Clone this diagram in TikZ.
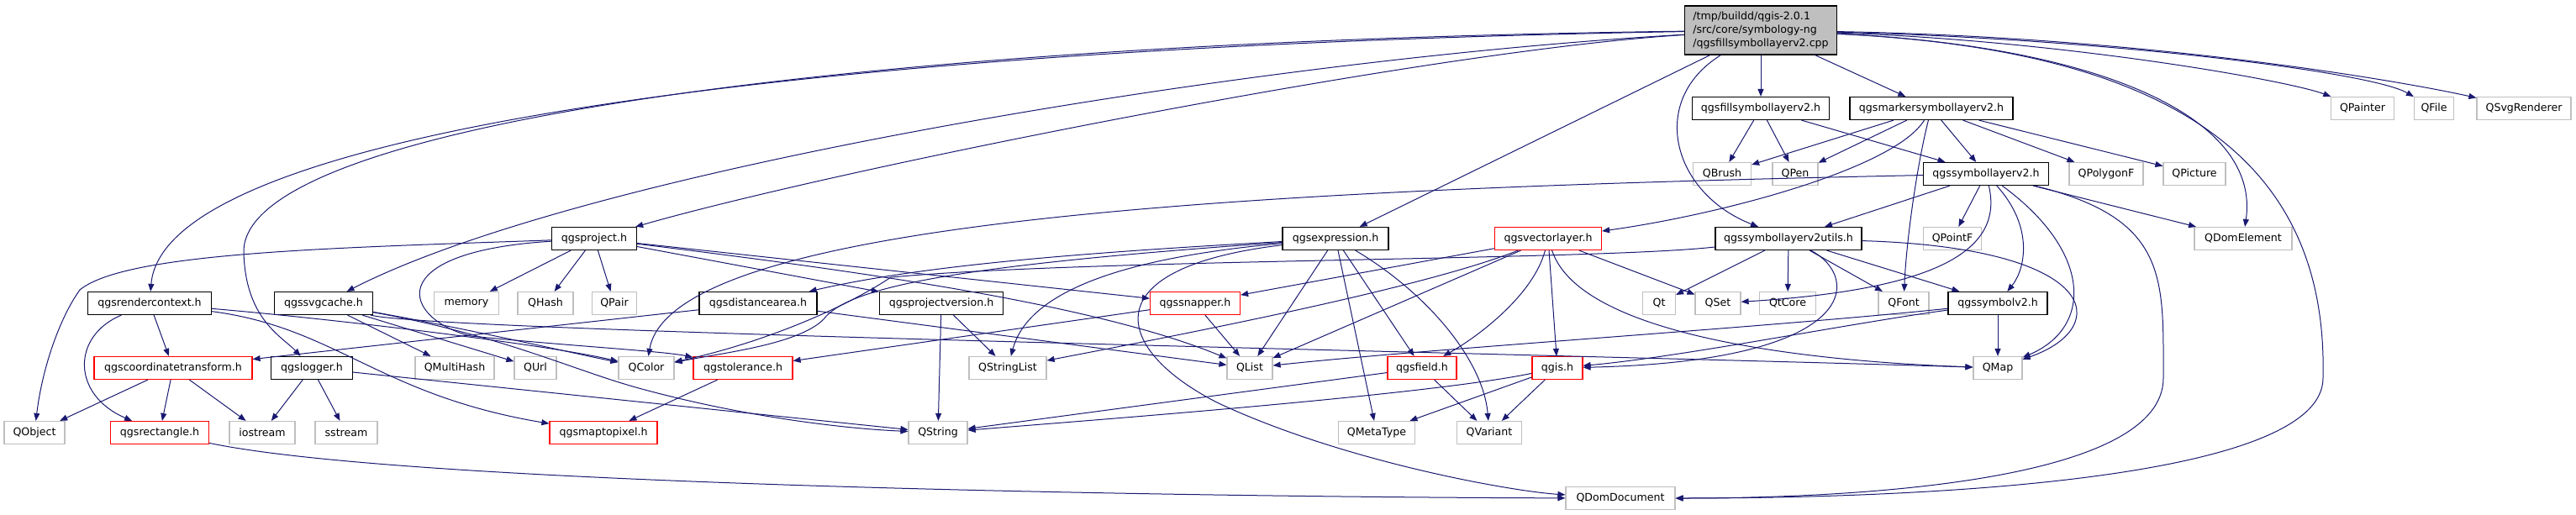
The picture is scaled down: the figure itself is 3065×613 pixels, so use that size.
\documentclass[tikz,border=0pt]{standalone}
\usepackage{fontspec}
\setmainfont{DejaVu Sans}
\usetikzlibrary{arrows.meta}
\definecolor{edgeblue}{HTML}{191970}
\definecolor{boxgray}{HTML}{BFBFBF}

\begin{document}
\begin{tikzpicture}[x=1pt, y=-1pt, >={Triangle[length=9pt,width=7pt]},
  every node/.style={font=\fontsize{12.6}{16}\selectfont, inner sep=0pt, minimum height=27pt},
  srcbox/.style={draw=black, fill=boxgray, line width=1.2pt},
  hdr/.style={draw=black, line width=1.2pt},
  qtcls/.style={draw=boxgray, line width=1.2pt},
  trunc/.style={draw=red, line width=1.2pt},
  dep/.style={draw=edgeblue, line width=1pt, ->}]

\useasboundingbox (0,0) rectangle (3065,613);

\node[srcbox, minimum width=181pt, minimum height=58pt, align=left] (src) at (2095,36)
  {/tmp/buildd/qgis-2.0.1\\/src/core/symbology-ng\\/qgsfillsymbollayerv2.cpp};

\node[hdr, minimum width=163pt] (fillsym) at (2095,129) {qgsfillsymbollayerv2.h};
\node[hdr, minimum width=194pt] (markersym) at (2298,129) {qgsmarkersymbollayerv2.h};
\node[qtcls, minimum width=75pt] (painter) at (2811,129) {QPainter};
\node[qtcls, minimum width=47pt] (file) at (2896,129) {QFile};
\node[qtcls, minimum width=112pt] (svgrend) at (3003,129) {QSvgRenderer};

\node[qtcls, minimum width=69pt] (brush) at (2049,207) {QBrush};
\node[qtcls, minimum width=54pt] (pen) at (2136,207) {QPen};
\node[hdr, minimum width=149pt] (symlayer) at (2363,207) {qgssymbollayerv2.h};
\node[qtcls, minimum width=88pt] (polygonf) at (2506,207) {QPolygonF};
\node[qtcls, minimum width=74pt] (picture) at (2611,207) {QPicture};

\node[hdr, minimum width=101pt] (project) at (707,284) {qgsproject.h};
\node[hdr, minimum width=126pt] (expression) at (1589,284) {qgsexpression.h};
\node[trunc, minimum width=127pt] (vlayer) at (1842,284) {qgsvectorlayer.h};
\node[hdr, minimum width=174pt] (symutils) at (2128,284) {qgssymbollayerv2utils.h};
\node[qtcls, minimum width=69pt] (pointf) at (2323,284) {QPointF};
\node[qtcls, minimum width=116pt] (domelem) at (2669,284) {QDomElement};

\node[hdr, minimum width=147pt] (rendctx) at (178,361) {qgsrendercontext.h};
\node[hdr, minimum width=117pt] (svgcache) at (385,361) {qgssvgcache.h};
\node[qtcls, minimum width=77pt] (memory) at (555,361) {memory};
\node[qtcls, minimum width=66pt] (hash) at (649,361) {QHash};
\node[qtcls, minimum width=53pt] (pair) at (731,361) {QPair};
\node[hdr, minimum width=140pt] (distarea) at (902,361) {qgsdistancearea.h};
\node[hdr, minimum width=147pt] (projver) at (1120,361) {qgsprojectversion.h};
\node[trunc, minimum width=107pt] (snapper) at (1422,361) {qgssnapper.h};
\node[qtcls, minimum width=39pt] (qt) at (1974,361) {Qt};
\node[qtcls, minimum width=54pt] (set) at (2044,361) {QSet};
\node[qtcls, minimum width=67pt] (qtcore) at (2127,361) {QtCore};
\node[qtcls, minimum width=60pt] (font) at (2265,361) {QFont};
\node[hdr, minimum width=118pt] (symbol) at (2377,361) {qgssymbolv2.h};

\node[trunc, minimum width=188pt] (coordtr) at (206,438) {qgscoordinatetransform.h};
\node[hdr, minimum width=97pt] (logger) at (371,438) {qgslogger.h};
\node[qtcls, minimum width=94pt] (multihash) at (541,438) {QMultiHash};
\node[qtcls, minimum width=50pt] (url) at (637,438) {QUrl};
\node[qtcls, minimum width=66pt] (color) at (769,438) {QColor};
\node[trunc, minimum width=118pt] (tolerance) at (884,438) {qgstolerance.h};
\node[qtcls, minimum width=92pt] (strlist) at (1199,438) {QStringList};
\node[qtcls, minimum width=54pt] (list) at (1487,438) {QList};
\node[trunc, minimum width=82pt] (field) at (1692,438) {qgsfield.h};
\node[trunc, minimum width=60pt] (qgis) at (1853,438) {qgis.h};
\node[qtcls, minimum width=58pt] (map) at (2377,438) {QMap};

\node[qtcls, minimum width=72pt] (object) at (41,515) {QObject};
\node[trunc, minimum width=117pt] (rect) at (190,515) {qgsrectangle.h};
\node[qtcls, minimum width=78pt] (iostream) at (312,515) {iostream};
\node[qtcls, minimum width=74pt] (sstream) at (412,515) {sstream};
\node[trunc, minimum width=128pt] (maptopix) at (718,515) {qgsmaptopixel.h};
\node[qtcls, minimum width=70pt] (string) at (1116,515) {QString};
\node[qtcls, minimum width=91pt] (metatype) at (1638,515) {QMetaType};
\node[qtcls, minimum width=77pt] (variant) at (1772,515) {QVariant};

\node[qtcls, minimum width=130pt] (domdoc) at (1928,593) {QDomDocument};

% the .cpp file
\draw[dep] (src) -- (fillsym);
\draw[dep] (src) -- (markersym);
\draw[dep] (src) .. controls (2450,48) and (2720,95) .. (painter);
\draw[dep] (src) .. controls (2500,46) and (2820,85) .. (file);
\draw[dep] (src) .. controls (2550,44) and (2850,95) .. (svgrend);
\draw[dep] (src) .. controls (2500,55) and (2690,140) .. (domelem);
\draw[dep] (src) .. controls (2600,60) and (2770,200) .. (2764,450) .. controls (2764,570) and (2300,593) .. (domdoc);
\draw[dep] (src) .. controls (1960,120) and (1990,230) .. (symutils);
\draw[dep] (src) -- (expression);
\draw[dep] (src) .. controls (1700,60) and (1000,200) .. (project);
\draw[dep] (src) .. controls (1500,70) and (700,200) .. (svgcache);
\draw[dep] (src) .. controls (1000,55) and (195,150) .. (rendctx);
\draw[dep] (src) .. controls (1000,50) and (288,150) .. (290,300) .. controls (292,380) and (335,400) .. (logger);

\draw[dep] (fillsym) -- (brush);
\draw[dep] (fillsym) -- (pen);
\draw[dep] (fillsym) -- (symlayer);

\draw[dep] (markersym) -- (brush);
\draw[dep] (markersym) -- (pen);
\draw[dep] (markersym) -- (symlayer);
\draw[dep] (markersym) -- (polygonf);
\draw[dep] (markersym) -- (picture);
\draw[dep] (markersym) .. controls (2280,200) and (2268,290) .. (font);
\draw[dep] (markersym) .. controls (2255,200) and (2050,255) .. (vlayer);

\draw[dep] (symlayer) .. controls (1500,225) and (800,260) .. (color);
\draw[dep] (symlayer) -- (symutils);
\draw[dep] (symlayer) -- (pointf);
\draw[dep] (symlayer) .. controls (2385,300) and (2300,345) .. (set);
\draw[dep] (symlayer) .. controls (2420,270) and (2410,320) .. (symbol);
\draw[dep] (symlayer) .. controls (2490,300) and (2490,390) .. (map);
\draw[dep] (symlayer) -- (domelem);
\draw[dep] (symlayer) .. controls (2580,260) and (2574,330) .. (2574,450) .. controls (2574,575) and (2200,593) .. (domdoc);

\draw[dep] (symutils) -- (qt);
\draw[dep] (symutils) -- (qtcore);
\draw[dep] (symutils) -- (font);
\draw[dep] (symutils) -- (symbol);
\draw[dep] (symutils) .. controls (2500,295) and (2515,390) .. (map);
\draw[dep] (symutils) .. controls (1900,310) and (1300,308) .. (1060,330) .. controls (1000,370) and (900,410) .. (color);
\draw[dep] (symutils) .. controls (2215,330) and (2215,430) .. (qgis);

\draw[dep] (symbol) -- (map);
\draw[dep] (symbol) .. controls (2200,385) and (2000,425) .. (qgis);
\draw[dep] (symbol) .. controls (2100,390) and (1700,415) .. (list);

\draw[dep] (vlayer) -- (snapper);
\draw[dep] (vlayer) -- (list);
\draw[dep] (vlayer) .. controls (1825,350) and (1760,400) .. (field);
\draw[dep] (vlayer) -- (qgis);
\draw[dep] (vlayer) -- (set);
\draw[dep] (vlayer) .. controls (1880,400) and (2150,430) .. (map);
\draw[dep] (vlayer) .. controls (1700,340) and (1450,390) .. (strlist);

\draw[dep] (expression) -- (list);
\draw[dep] (expression) -- (metatype);
\draw[dep] (expression) -- (field);
\draw[dep] (expression) .. controls (1700,350) and (1765,430) .. (variant);
\draw[dep] (expression) .. controls (1290,320) and (1330,420) .. (1450,480) .. controls (1600,550) and (1800,585) .. (domdoc);
\draw[dep] (expression) .. controls (1300,300) and (1100,315) .. (distarea);
\draw[dep] (expression) .. controls (1150,315) and (1010,340) .. (980,380) .. controls (950,410) and (860,420) .. (color);
\draw[dep] (expression) .. controls (1300,310) and (1220,360) .. (strlist);

\draw[dep] (project) -- (memory);
\draw[dep] (project) -- (hash);
\draw[dep] (project) -- (pair);
\draw[dep] (project) .. controls (400,295) and (150,300) .. (95,345) .. controls (70,380) and (50,440) .. (object);
\draw[dep] (project) -- (projver);
\draw[dep] (project) -- (snapper);
\draw[dep] (project) .. controls (1000,320) and (1300,360) .. (list);
\draw[dep] (project) .. controls (450,300) and (480,380) .. (560,400) .. controls (680,412) and (790,418) .. (tolerance);

\draw[dep] (rendctx) -- (coordtr);
\draw[dep] (rendctx) .. controls (85,400) and (85,470) .. (rect);
\draw[dep] (rendctx) .. controls (400,380) and (650,410) .. (color);
\draw[dep] (rendctx) .. controls (400,390) and (450,470) .. (maptopix);

\draw[dep] (svgcache) -- (multihash);
\draw[dep] (svgcache) -- (url);
\draw[dep] (svgcache) .. controls (550,390) and (680,420) .. (color);
\draw[dep] (svgcache) .. controls (600,400) and (680,440) .. (760,462) .. controls (880,495) and (1000,510) .. (string);
\draw[dep] (svgcache) .. controls (520,395) and (1800,420) .. (map);

\draw[dep] (coordtr) -- (object);
\draw[dep] (coordtr) -- (rect);
\draw[dep] (coordtr) -- (iostream);

\draw[dep] (logger) -- (iostream);
\draw[dep] (logger) -- (sstream);
\draw[dep] (logger) -- (string);

\draw[dep] (distarea) -- (coordtr);
\draw[dep] (distarea) -- (list);

\draw[dep] (projver) -- (string);
\draw[dep] (projver) -- (strlist);

\draw[dep] (snapper) -- (list);
\draw[dep] (snapper) -- (tolerance);

\draw[dep] (tolerance) -- (maptopix);

\draw[dep] (field) -- (string);
\draw[dep] (field) -- (variant);

\draw[dep] (qgis) .. controls (1700,470) and (1300,500) .. (string);
\draw[dep] (qgis) -- (metatype);
\draw[dep] (qgis) -- (variant);

\draw[dep] (rect) .. controls (500,580) and (1500,592) .. (domdoc);
\end{tikzpicture}
\end{document}
